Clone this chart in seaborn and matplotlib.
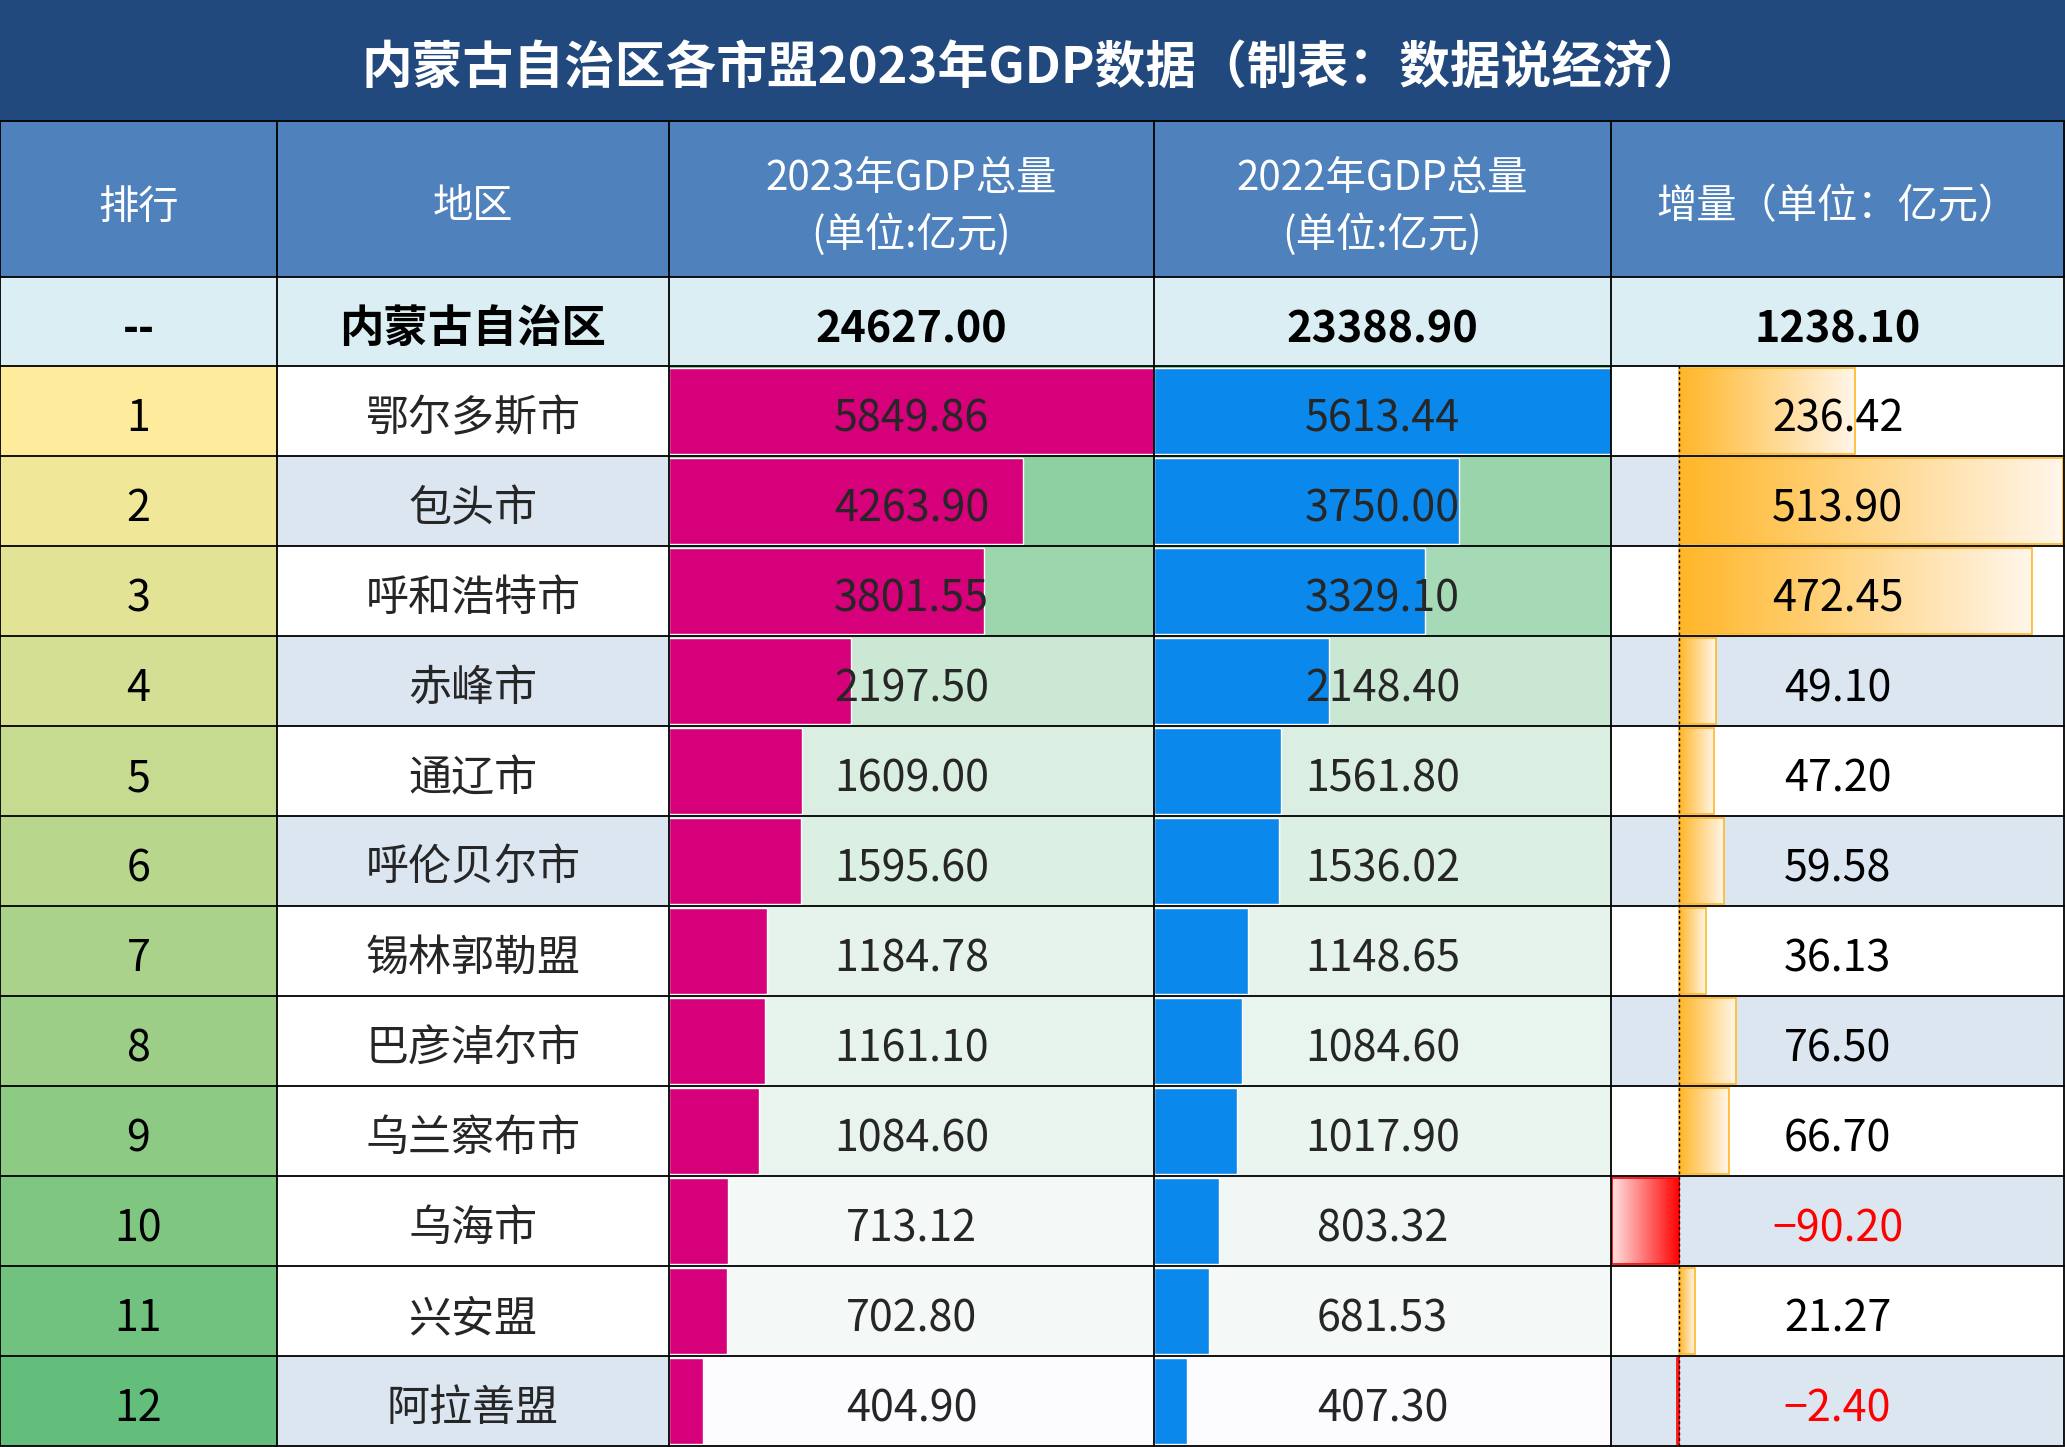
import matplotlib
matplotlib.use("Agg")
import matplotlib.pyplot as plt
import numpy as np
import seaborn as sns
from matplotlib.colors import LinearSegmentedColormap

# 数据
ranks = [1, 2, 3, 4, 5, 6, 7, 8, 9, 10, 11, 12]
regions = ['鄂尔多斯市', '包头市', '呼和浩特市', '赤峰市', '通辽市', '呼伦贝尔市',
           '锡林郭勒盟', '巴彦淖尔市', '乌兰察布市', '乌海市', '兴安盟', '阿拉善盟']
gdp_2023 = [5849.86, 4263.90, 3801.55, 2197.50, 1609.00, 1595.60,
            1184.78, 1161.10, 1084.60, 713.12, 702.80, 404.90]
gdp_2022 = [5613.44, 3750.00, 3329.10, 2148.40, 1561.80, 1536.02,
            1148.65, 1084.60, 1017.90, 803.32, 681.53, 407.30]
increase = [236.42, 513.90, 472.45, 49.10, 47.20, 59.58,
            36.13, 76.50, 66.70, -90.20, 21.27, -2.40]
total_row = ['--', '内蒙古自治区', 24627.00, 23388.90, 1238.10]
headers = ['排行', '地区', '2023年GDP总量\n(单位:亿元)', '2022年GDP总量\n(单位:亿元)', '增量（单位：亿元）']
title = '内蒙古自治区各市盟2023年GDP数据（制表：数据说经济）'

# 样式
region_shade = [0, 1, 0, 1, 0, 1, 0, 0, 0, 0, 0, 1]
inc_shade = [0, 1, 0, 1, 0, 1, 0, 1, 0, 1, 0, 1]
C_TITLE = '#21497D'
C_HEAD = '#4F81BD'
C_TOTAL = '#DAEEF3'
C_STRIPE = '#DCE6F1'
C_MAGENTA = '#D6007B'
C_BLUE = '#0A88EC'

W, H = 2065, 1447
COL_X = [0, 277, 669, 1154, 1611, 2064]
Y_HEAD, Y_TOTAL, Y_BODY, Y_END = 121, 277, 366, 1446
DY = 0.09      # 文字下移 (行高比例)
DY_PX = 8      # 文字下移 (像素)
FS_NUM = 31

sns.set_style('white')
plt.rcParams['font.family'] = ['Noto Sans CJK SC', 'DejaVu Sans']

fig = plt.figure(figsize=(W / 100, H / 100), dpi=100)


def rect(x0, y0, x1, y1):
    return [x0 / W, 1 - y1 / H, (x1 - x0) / W, (y1 - y0) / H]


def fmt(v):
    return f'{v:.2f}'.replace('-', '\u2212')


# 背景: 标题, 表头, 合计行
ax_bg = fig.add_axes([0, 0, 1, 1])
ax_bg.set_xlim(0, W)
ax_bg.set_ylim(H, 0)
ax_bg.axis('off')
ax_bg.add_patch(plt.Rectangle((0, 0), W, Y_HEAD, color=C_TITLE))
ax_bg.add_patch(plt.Rectangle((0, Y_HEAD), COL_X[-1], Y_TOTAL - Y_HEAD, color=C_HEAD))
ax_bg.add_patch(plt.Rectangle((0, Y_TOTAL), COL_X[-1], Y_BODY - Y_TOTAL, color=C_TOTAL))
ax_bg.text(W / 2, Y_HEAD / 2 + DY_PX, title, color='white', fontsize=36.5,
           fontweight='bold', ha='center', va='center')
for i, h in enumerate(headers):
    xc = (COL_X[i] + COL_X[i + 1]) / 2
    ax_bg.text(xc, (Y_HEAD + Y_TOTAL) / 2 + DY_PX, h, color='white', fontsize=29,
               ha='center', va='center', linespacing=1.4)
for i, t in enumerate(total_row):
    xc = (COL_X[i] + COL_X[i + 1]) / 2
    s = t if isinstance(t, str) else fmt(t)
    ax_bg.text(xc, (Y_TOTAL + Y_BODY) / 2 + DY_PX, s, color='black',
               fontsize=32 if i == 1 else FS_NUM, fontweight='bold',
               ha='center', va='center')

n = len(regions)
yr = (n - 0.5, -0.5)

# 排行列: 黄-绿色阶
cmap_rank = LinearSegmentedColormap.from_list('rank', ['#FFEB9C', '#63BE7B'])
ax_rank = fig.add_axes(rect(COL_X[0], Y_BODY, COL_X[1], Y_END))
sns.heatmap(np.array(ranks).reshape(-1, 1), cmap=cmap_rank, cbar=False,
            annot=True, fmt='d', annot_kws={'fontsize': FS_NUM, 'color': 'black'},
            xticklabels=False, yticklabels=False, ax=ax_rank)
for t in ax_rank.texts:
    x, y = t.get_position()
    t.set_position((x, y + DY))

# 地区列
ax_reg = fig.add_axes(rect(COL_X[1], Y_BODY, COL_X[2], Y_END))
for i, name in enumerate(regions):
    ax_reg.axhspan(i - 0.5, i + 0.5, color=C_STRIPE if region_shade[i] else 'white', lw=0)
    ax_reg.text(0.5, i + DY, name, fontsize=31, ha='center', va='center',
                transform=ax_reg.get_yaxis_transform())
ax_reg.set_xlim(0, 1)
ax_reg.set_ylim(*yr)
ax_reg.axis('off')

# GDP 列: 绿色色阶背景 + 数据条
cmap_green = LinearSegmentedColormap.from_list('green', ['#FCFCFF', '#63BE7B'])


def gdp_column(values, x0, x1, bar_color):
    ax_h = fig.add_axes(rect(x0, Y_BODY, x1, Y_END))
    sns.heatmap(np.array(values).reshape(-1, 1), cmap=cmap_green, cbar=False,
                vmin=min(values), vmax=max(values),
                xticklabels=False, yticklabels=False, ax=ax_h)
    ax = fig.add_axes(rect(x0, Y_BODY, x1, Y_END))
    ax.patch.set_alpha(0)
    sns.barplot(x=values, y=regions, orient='h', color=bar_color, saturation=1,
                width=0.95, errorbar=None, ax=ax)
    for i, v in enumerate(values):
        ax.text(0.5, i + DY, fmt(v), fontsize=FS_NUM, ha='center', va='center',
                transform=ax.get_yaxis_transform())
    ax.set_xlim(0, max(values))
    ax.set_ylim(*yr)
    ax.axis('off')


gdp_column(gdp_2023, COL_X[2], COL_X[3], C_MAGENTA)
gdp_column(gdp_2022, COL_X[3], COL_X[4], C_BLUE)

# 增量列: 渐变数据条
cmap_pos = LinearSegmentedColormap.from_list('pos', ['#FFB628', '#FFF6EA'])
cmap_neg = LinearSegmentedColormap.from_list('neg', ['#FFE2E2', '#FF0000'])
ax_inc = fig.add_axes(rect(COL_X[4], Y_BODY, COL_X[5], Y_END))
for i in range(n):
    ax_inc.axhspan(i - 0.5, i + 0.5, color=C_STRIPE if inc_shade[i] else 'white',
                   lw=0, zorder=0)
sns.barplot(x=increase, y=regions, orient='h', color='white', saturation=1,
            width=0.95, errorbar=None, ax=ax_inc)
grad = np.linspace(0, 1, 256).reshape(1, -1)
for bar, v in zip(ax_inc.containers[-1], increase):
    bb = bar.get_bbox()
    bx0, bx1 = sorted([bb.x0, bb.x1])
    by0, by1 = sorted([bb.y0, bb.y1])
    ax_inc.imshow(grad, cmap=cmap_pos if v >= 0 else cmap_neg, aspect='auto',
                  extent=(bx0, bx1, by1, by0), zorder=1.5)
    bar.set_facecolor('none')
    bar.set_edgecolor('#FFB628' if v >= 0 else '#FF0000')
    bar.set_linewidth(1.2)
    bar.set_zorder(2)
for i, v in enumerate(increase):
    ax_inc.text(0.5, i + DY, fmt(v), fontsize=FS_NUM, ha='center', va='center',
                color='black' if v >= 0 else '#FF0000',
                transform=ax_inc.get_yaxis_transform(), zorder=4)
ax_inc.axvline(0, color='black', lw=1, ls=(0, (2, 2)), zorder=3)
ax_inc.set_xlim(min(increase) - 1, max(increase) + 2)
ax_inc.set_ylim(*yr)
ax_inc.axis('off')

# 表格线
ax_ln = fig.add_axes([0, 0, 1, 1])
ax_ln.patch.set_alpha(0)
ax_ln.set_xlim(0, W)
ax_ln.set_ylim(H, 0)
ax_ln.axis('off')
row_h = (Y_END - Y_BODY) / n
for y in [Y_HEAD, Y_TOTAL] + [Y_BODY + k * row_h for k in range(n + 1)]:
    ax_ln.plot([0, COL_X[-1]], [y, y], color='black', lw=1.3)
for x in COL_X:
    ax_ln.plot([x, x], [Y_HEAD, Y_END], color='black', lw=1.3)

fig.savefig('out.png', dpi=100)
